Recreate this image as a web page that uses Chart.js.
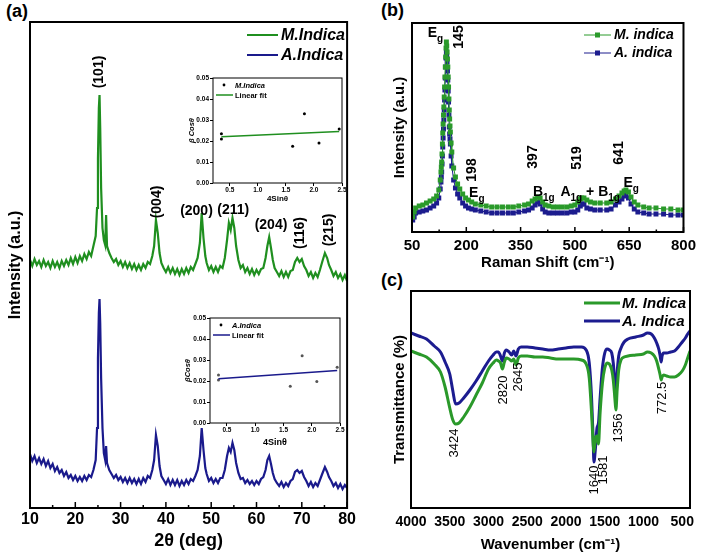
<!DOCTYPE html>
<html>
<head>
<meta charset="utf-8">
<script src="https://cdn.jsdelivr.net/npm/chart.js@4.4.1/dist/chart.umd.min.js"></script>
<style>
  html, body { margin: 0; padding: 0; background: #fff; }
  body { position: relative; width: 702px; height: 553px; overflow: hidden; font-family: "Liberation Sans", Arial, sans-serif; }
  canvas { position: absolute; }
  .lbl { position: absolute; font-weight: bold; font-size: 18px; color: #000; }
</style>
</head>
<body>
<div class="lbl" style="left:6px;top:1px">(a)</div>
<div class="lbl" style="left:381px;top:0px">(b)</div>
<div class="lbl" style="left:381px;top:270px">(c)</div>
<canvas id="xrd" width="360" height="553" style="left:0;top:0"></canvas>
<canvas id="insetM" width="169" height="140" style="left:182px;top:66px"></canvas>
<canvas id="insetA" width="169" height="145" style="left:180px;top:306px"></canvas>
<canvas id="raman" width="342" height="272" style="left:360px;top:0"></canvas>
<canvas id="ftir" width="342" height="278" style="left:360px;top:275px"></canvas>
<script>
// ---- (a) XRD ----
const xrdAngle = [
  10, 10.5, 11, 11.5, 12, 12.5, 13, 13.5, 14, 14.5,
  15, 15.5, 16, 16.5, 17, 17.5, 18, 18.5, 19, 19.5,
  20, 20.5, 21, 21.5, 22, 22.5, 23, 23.5, 24, 24.5,
  24.8, 25, 25.2, 25.35, 25.5, 25.7, 26, 26.3, 26.6, 26.8,
  27, 27.5, 28, 28.5, 29, 29.5, 30, 30.5, 31, 31.5,
  32, 32.5, 33, 33.5, 34, 34.5, 35, 35.5, 36, 36.5,
  37, 37.4, 37.8, 38.2, 38.6, 39, 39.5, 40, 40.5, 41,
  41.5, 42, 42.5, 43, 43.5, 44, 44.5, 45, 45.5, 46,
  46.5, 47, 47.5, 47.9, 48.3, 48.7, 49, 49.5, 50, 50.5,
  51, 51.5, 52, 52.5, 53, 53.5, 53.9, 54.3, 54.7, 55.1,
  55.5, 56, 56.5, 57, 57.5, 58, 58.5, 59, 59.5, 60,
  60.5, 61, 61.5, 62, 62.4, 62.8, 63.2, 63.6, 64, 64.5,
  65, 65.5, 66, 66.5, 67, 67.5, 68, 68.5, 69, 69.5,
  70, 70.5, 71, 71.5, 72, 72.5, 73, 73.5, 74, 74.5,
  75.1, 75.6, 76, 76.5, 77, 77.5, 78, 78.5, 79, 79.5,
  80
];
const xrdMIndica = [
  248, 242, 249, 243, 247, 241, 248, 242, 246, 240,
  247, 241, 246, 240, 247, 242, 248, 243, 250, 244,
  251, 245, 252, 247, 254, 249, 256, 252, 262, 272,
  300, 350, 400, 413, 380, 320, 280, 268, 263, 293,
  262, 255, 250, 246, 249, 243, 247, 241, 246, 240,
  245, 239, 244, 238, 243, 238, 244, 240, 246, 244,
  252, 262, 288, 275, 255, 245, 240, 236, 241, 235,
  240, 234, 239, 233, 239, 234, 240, 235, 241, 238,
  244, 250, 265, 295, 270, 252, 245, 238, 242, 236,
  241, 236, 242, 240, 250, 268, 285, 278, 290, 280,
  262, 248, 240, 243, 236, 240, 234, 239, 233, 238,
  234, 239, 240, 250, 262, 271, 260, 248, 240, 236,
  232, 237, 231, 236, 231, 237, 238, 246, 250, 246,
  249, 242, 238, 232, 236, 230, 235, 231, 238, 246,
  255, 250, 243, 238, 232, 236, 230, 234, 228, 233,
  227
];
const xrdAIndica = [
  54, 47, 52, 45, 50, 44, 49, 42, 47, 40,
  44, 37, 41, 35, 38, 32, 36, 30, 33, 28,
  32, 27, 31, 27, 32, 28, 33, 31, 38, 48,
  80, 150, 195, 209, 185, 130, 80, 55, 48, 62,
  45, 38, 34, 30, 33, 28, 31, 26, 30, 25,
  30, 25, 29, 24, 29, 24, 30, 26, 32, 30,
  38, 48, 73, 62, 42, 32, 28, 24, 29, 23,
  28, 23, 28, 22, 27, 23, 28, 24, 29, 27,
  32, 38, 52, 80, 58, 40, 34, 27, 30, 25,
  29, 25, 30, 30, 38, 52, 60, 56, 65, 58,
  45, 35, 29, 30, 25, 28, 24, 27, 23, 27,
  24, 29, 31, 38, 48, 52, 44, 35, 29, 25,
  22, 26, 21, 25, 22, 27, 29, 36, 38, 35,
  37, 31, 27, 22, 26, 21, 25, 22, 28, 34,
  41, 36, 31, 27, 22, 25, 20, 24, 19, 23,
  20
];
const xrdTicks = [10, 20, 30, 40, 50, 60, 70, 80];
const xrdPeaks = ['(101)', '(004)', '(200)', '(211)', '(204)', '(116)', '(215)'];

// ---- (a) insets: Williamson-Hall ----
const whX = [0.35, 0.35, 1.62, 1.83, 2.09, 2.45];
const whMIndica = [0.0235, 0.021, 0.0175, 0.033, 0.019, 0.0257];
const whAIndica = [0.0228, 0.0205, 0.0175, 0.032, 0.0198, 0.0265];
const fitX = [0.35, 2.45];
const fitMIndica = [0.0220, 0.0245];
const fitAIndica = [0.0211, 0.0250];
const whXTicks = [0.5, 1.0, 1.5, 2.0, 2.5];
const whYTicks = [0, 0.01, 0.02, 0.03, 0.04, 0.05];

// ---- (b) Raman ----
const ramanShift = [
  52, 56, 60, 70, 80, 90, 100, 110, 118, 124,
  128, 130, 131, 132, 133, 134, 135, 136, 137, 138,
  139, 140, 141, 142, 143, 144, 145, 146, 147, 148,
  149, 150, 151, 152, 153, 154, 155, 156, 158, 160,
  165, 170, 176, 182, 190, 198, 206, 215, 225, 240,
  255, 270, 285, 300, 316, 330, 345, 361, 372, 382,
  390, 397, 404, 411, 418, 428, 440, 452, 465, 478,
  490, 500, 508, 515, 519, 525, 533, 543, 555, 570,
  588, 600, 612, 622, 630, 636, 641, 648, 655, 664,
  674, 690, 705, 724, 745, 765, 785, 800
];
const ramanMIndica = [
  15, 20, 24, 26, 27, 29, 31, 33, 36, 42,
  52, 60, 65, 70, 78, 88, 99, 108, 117, 125,
  135, 145, 155, 165, 175, 184, 190, 186, 180, 173,
  165, 155, 145, 133, 122, 113, 106, 100, 89, 80,
  64, 55, 48, 43, 38, 34, 32, 30, 28, 27,
  26, 25, 25, 25, 25, 25, 26, 27, 28, 31,
  33, 35, 34, 30, 27, 26, 25, 25, 25, 25,
  26, 27, 30, 33, 34, 34, 32, 30, 29, 29,
  29, 30, 33, 36, 39, 41, 42, 40, 35, 30,
  27, 25, 24, 24, 23, 23, 22, 22
];
const ramanAIndica = [
  12, 15, 19, 20, 21, 22, 24, 26, 29, 34,
  43, 50, 55, 60, 68, 76, 85, 94, 103, 112,
  122, 132, 142, 154, 165, 174, 180, 176, 170, 161,
  152, 141, 130, 117, 105, 98, 93, 88, 76, 66,
  52, 44, 38, 34, 29, 26, 24, 23, 22, 21,
  20, 19, 19, 19, 19, 19, 20, 21, 22, 24,
  27, 30, 28, 23, 20, 19, 19, 19, 19, 19,
  20, 20, 22, 26, 28, 28, 24, 23, 22, 22,
  22, 23, 27, 30, 33, 36, 37, 34, 28, 23,
  20, 19, 18, 18, 18, 17, 17, 17
];
const ramanTicks = [50, 200, 350, 500, 650, 800];

// ---- (c) FTIR ----
const ftirWavenumber = [
  4000, 3900, 3800, 3700, 3620, 3560, 3500, 3460, 3424, 3380,
  3320, 3240, 3160, 3080, 3000, 2940, 2900, 2870, 2845, 2820,
  2795, 2770, 2735, 2700, 2675, 2645, 2615, 2580, 2500, 2400,
  2300, 2200, 2100, 2000, 1900, 1800, 1740, 1700, 1670, 1650,
  1640, 1620, 1600, 1581, 1560, 1530, 1500, 1470, 1440, 1410,
  1390, 1375, 1365, 1356, 1340, 1320, 1290, 1250, 1200, 1100,
  1000, 950, 900, 860, 830, 800, 785, 772, 760, 740,
  700, 650, 600, 550, 500, 460, 430, 400
];
const ftirMIndica = [
  157, 154, 151, 144, 136, 121, 100, 88, 84, 85,
  91, 101, 113, 125, 139, 145, 148, 147, 145, 139,
  146, 150, 149, 147, 149, 143, 150, 152, 152, 151,
  151, 150, 149, 149, 149, 148, 144, 130, 95, 65,
  56, 70, 72, 64, 95, 125, 140, 145, 144, 138,
  128, 115, 105, 98, 118, 138, 148, 151, 152, 153,
  154, 156, 155, 152, 147, 138, 133, 128, 131, 133,
  132, 131, 131, 133, 137, 143, 150, 157
];
const ftirAIndica = [
  175, 172, 169, 162, 156, 146, 134, 117, 104, 105,
  110, 118, 127, 137, 147, 153, 156, 156, 152, 147,
  155, 158, 156, 153, 157, 152, 159, 161, 161, 160,
  159, 158, 159, 160, 161, 161, 158, 145, 110, 70,
  46, 60, 80, 85, 110, 140, 155, 159, 158, 155,
  145, 130, 118, 111, 135, 152, 160, 166, 169, 171,
  173, 175, 174, 170, 165, 158, 152, 146, 152, 155,
  155, 156, 157, 161, 166, 170, 174, 177
];
const ftirTicks = [4000, 3500, 3000, 2500, 2000, 1500, 1000, 500];
const ftirBands = ['3424', '2820', '2645', '1640', '1581', '1356', '772.5'];

const FAM = '"Liberation Sans", Arial, sans-serif';
const GREEN = '#1f8f1f', BLUE = '#1a1a8c';

function pts(xs, ys) { return xs.map((x, i) => ({ x: x, y: ys[i] })); }
function setTicks(arr) { return s => { s.ticks = arr.map(v => ({ value: v })); }; }
function fnt(size, weight, style) {
  return { family: FAM, size: size, weight: weight || 'bold', style: style || 'normal', lineHeight: 1 };
}

// frame, inner ticks, annotations and legend, drawn against the chart's own scales
function decor(o) {
  return {
    id: 'decor',
    afterDraw(chart) {
      const ctx = chart.ctx, a = chart.chartArea, sx = chart.scales.x, sy = chart.scales.y;
      ctx.save();
      ctx.strokeStyle = '#000';
      if (o.ticks) {
        ctx.lineWidth = 1.5;
        o.ticks.forEach((v, i) => {
          const marks = [[v, o.tickLen]];
          if (i < o.ticks.length - 1) marks.push([(v + o.ticks[i + 1]) / 2, o.tickLen / 2]);
          marks.forEach(([t, len]) => {
            const x = sx.getPixelForValue(t);
            ctx.beginPath(); ctx.moveTo(x, a.bottom); ctx.lineTo(x, a.bottom - len); ctx.stroke();
          });
        });
      }
      ctx.lineWidth = o.frame;
      ctx.strokeRect(a.left, a.top, a.right - a.left, a.bottom - a.top);
      ctx.fillStyle = '#000';
      ctx.textBaseline = 'middle';
      (o.notes || []).forEach(n => {
        ctx.save();
        ctx.translate(sx.getPixelForValue(n.x), sy.getPixelForValue(n.y));
        if (n.rot) ctx.rotate(-Math.PI / 2);
        if (n.parts) {
          ctx.textAlign = 'left';
          let cx = 0;
          n.parts.forEach(p => {
            ctx.font = p[1] ? o.subFont : o.noteFont;
            ctx.fillText(p[0], cx, p[1] ? o.subDy : 0);
            cx += ctx.measureText(p[0]).width;
          });
        } else {
          ctx.textAlign = 'center';
          ctx.font = o.noteFont;
          ctx.fillText(n.text, 0, 0);
        }
        ctx.restore();
      });
      (o.legend || []).forEach(l => {
        if (l.dot) {
          ctx.fillStyle = '#000';
          ctx.beginPath(); ctx.arc(l.x1, l.y, 1.4, 0, Math.PI * 2); ctx.fill();
        } else {
          ctx.strokeStyle = l.color; ctx.lineWidth = l.width;
          ctx.beginPath(); ctx.moveTo(l.x1, l.y); ctx.lineTo(l.x2, l.y); ctx.stroke();
          if (l.marker) {
            ctx.fillStyle = l.color;
            ctx.fillRect((l.x1 + l.x2) / 2 - 2.5, l.y - 2.5, 5, 5);
          }
        }
        ctx.fillStyle = '#000';
        ctx.textAlign = 'left';
        ctx.font = l.font;
        ctx.fillText(l.text, l.tx, l.y + 0.5);
      });
      ctx.restore();
    }
  };
}

const noAnim = { animation: false, responsive: false, devicePixelRatio: 1, events: [] };
const offPlugins = { legend: { display: false }, tooltip: { enabled: false } };

// (a) XRD
const xrdPos = [[25.3, 436, 1], [38, 306, 1], [46.75, 297, 0], [54.85, 298, 0], [63.2, 283, 0], [69.7, 275, 1], [76.1, 278, 1]];
new Chart(document.getElementById('xrd'), {
  type: 'line',
  data: {
    datasets: [
      { data: pts(xrdAngle, xrdMIndica), borderColor: GREEN, borderWidth: 2.2, pointRadius: 0 },
      { data: pts(xrdAngle, xrdAIndica), borderColor: BLUE, borderWidth: 2.2, pointRadius: 0 }
    ]
  },
  options: Object.assign({}, noAnim, {
    layout: { padding: { left: 0, right: 10, top: 22, bottom: 0 } },
    plugins: offPlugins,
    scales: {
      x: {
        type: 'linear', min: 10, max: 80,
        afterBuildTicks: setTicks(xrdTicks),
        afterFit: s => { s.height = 45; },
        grid: { display: false, drawTicks: false }, border: { display: false },
        ticks: { color: '#000', font: fnt(16), padding: 4, autoSkip: false, maxRotation: 0, callback: v => String(v) },
        title: { display: true, text: '2θ (deg)', color: '#000', font: fnt(18), padding: { top: 0, bottom: 3 } }
      },
      y: {
        min: 0, max: 486,
        afterFit: s => { s.width = 30; },
        grid: { display: false, drawTicks: false }, border: { display: false },
        ticks: { display: false },
        title: { display: true, text: 'Intensity (a.u.)', color: '#000', font: fnt(16), padding: { top: 8, bottom: 0 } }
      }
    }
  }),
  plugins: [decor({
    frame: 2, ticks: xrdTicks, tickLen: 6,
    noteFont: 'bold 14px ' + FAM,
    notes: xrdPeaks.map((t, i) => ({ text: t, x: xrdPos[i][0], y: xrdPos[i][1], rot: xrdPos[i][2] })),
    legend: [
      { x1: 247, x2: 278, y: 35, color: GREEN, width: 2, text: 'M.Indica', tx: 281, font: 'italic bold 16px ' + FAM },
      { x1: 247, x2: 278, y: 55, color: BLUE, width: 2, text: 'A.Indica', tx: 281, font: 'italic bold 16px ' + FAM }
    ]
  })]
});

// (a) insets
function inset(id, ys, fitY, lineColor, dotColor, name, padY, padX, yTitle, axisH, yW, xTitleSize) {
  new Chart(document.getElementById(id), {
    type: 'scatter',
    data: {
      datasets: [
        { data: pts(fitX, fitY), showLine: true, borderColor: lineColor, borderWidth: 1.5, pointRadius: 0 },
        { data: pts(whX, ys), pointRadius: 1.5, pointBackgroundColor: dotColor, pointBorderWidth: 0 }
      ]
    },
    options: Object.assign({}, noAnim, {
      layout: { padding: { left: 0, right: 9, top: 12, bottom: 0 } },
      plugins: offPlugins,
      scales: {
        x: {
          type: 'linear', min: 0.2, max: 2.5,
          afterBuildTicks: setTicks(whXTicks),
          afterFit: s => { s.height = axisH; },
          grid: { display: true, drawOnChartArea: false, drawTicks: true, tickLength: 3, color: '#000' },
          border: { display: false },
          ticks: { color: '#000', font: fnt(6.5), padding: 1, autoSkip: false, maxRotation: 0, callback: v => v.toFixed(1) },
          title: { display: true, text: '4Sinθ', color: '#000', font: fnt(xTitleSize), padding: { top: 0, bottom: padX } }
        },
        y: {
          min: 0, max: 0.05,
          afterBuildTicks: setTicks(whYTicks),
          afterFit: s => { s.width = yW; },
          grid: { display: true, drawOnChartArea: false, drawTicks: true, tickLength: 3, color: '#000' },
          border: { display: false },
          ticks: { color: '#000', font: fnt(6.5), padding: 1, autoSkip: false, callback: v => v.toFixed(2) },
          title: { display: true, text: yTitle, color: '#000', font: fnt(7.5, 'bold', 'italic'), padding: { top: padY, bottom: 0 } }
        }
      }
    }),
    plugins: [decor({
      frame: 1,
      legend: [
        { dot: true, x1: yW + 11, y: 19, text: name, tx: yW + 22, font: 'italic bold 7.5px ' + FAM },
        { x1: yW + 3, x2: yW + 20, y: 29, color: lineColor, width: 1.5, text: 'Linear fit', tx: yW + 22, font: 'bold 7.5px ' + FAM }
      ]
    })]
  });
}
inset('insetM', whMIndica, fitMIndica, GREEN, '#000', 'M.Indica', 6, 3, 'β Cosθ', 23, 31, 8);
inset('insetA', whAIndica, fitAIndica, BLUE, '#555', 'A.Indica', 4, 3.5, 'βCosθ', 28, 30, 9);

// (b) Raman
const RG = '#2a9a2a', RB = '#1c1c8e';
new Chart(document.getElementById('raman'), {
  type: 'line',
  data: {
    datasets: [
      { data: pts(ramanShift, ramanMIndica), borderColor: RG, backgroundColor: RG, borderWidth: 1, pointStyle: 'rect', pointRadius: 3.5, pointBorderWidth: 0 },
      { data: pts(ramanShift, ramanAIndica), borderColor: RB, backgroundColor: RB, borderWidth: 1, pointStyle: 'rect', pointRadius: 3.5, pointBorderWidth: 0 }
    ]
  },
  options: Object.assign({}, noAnim, {
    layout: { padding: { left: 0, right: 14, top: 23, bottom: 0 } },
    plugins: offPlugins,
    scales: {
      x: {
        type: 'linear', min: 50, max: 800,
        afterBuildTicks: setTicks(ramanTicks),
        afterFit: s => { s.height = 40; },
        grid: { display: false, drawTicks: false }, border: { display: false },
        ticks: { color: '#000', font: fnt(15), padding: 6, autoSkip: false, maxRotation: 0, callback: v => String(v) },
        title: { display: true, text: 'Raman Shift (cm⁻¹)', color: '#000', font: fnt(15), padding: { top: 0, bottom: 2 } }
      },
      y: {
        min: 0, max: 209,
        afterFit: s => { s.width = 52; },
        grid: { display: false, drawTicks: false }, border: { display: false },
        ticks: { display: false },
        title: { display: true, text: 'Intensity (a.u.)', color: '#000', font: fnt(15), padding: { top: 32, bottom: 0 } }
      }
    }
  }),
  plugins: [decor({
    frame: 2, ticks: ramanTicks, tickLen: 5,
    noteFont: 'bold 14px ' + FAM, subFont: 'bold 10px ' + FAM, subDy: 6,
    notes: [
      { parts: [['E'], ['g', 1]], x: 93.5, y: 199 },
      { text: '145', rot: 1, x: 180, y: 195 },
      { text: '198', rot: 1, x: 215.7, y: 62 },
      { parts: [['E'], ['g', 1]], x: 207.6, y: 39 },
      { text: '397', rot: 1, x: 384, y: 75 },
      { parts: [['B'], ['1g', 1]], x: 384, y: 40 },
      { text: '519', rot: 1, x: 506, y: 74 },
      { parts: [['A'], ['1g', 1], [' + B'], ['1g', 1]], x: 460, y: 40 },
      { text: '641', rot: 1, x: 623, y: 79 },
      { parts: [['E'], ['g', 1]], x: 634, y: 49 }
    ],
    legend: [
      { x1: 224, x2: 251, y: 35, color: RG, width: 1, marker: 1, text: 'M. indica', tx: 254, font: 'italic bold 14px ' + FAM },
      { x1: 224, x2: 251, y: 53, color: RB, width: 1, marker: 1, text: 'A. indica', tx: 254, font: 'italic bold 14px ' + FAM }
    ]
  })]
});

// (c) FTIR
const FG = '#2a992a', FB = '#1c1c90';
const ftirPos = [[3445, 65], [2813, 118], [2620, 131], [1639, 28], [1523, 38], [1330, 80], [762, 110]];
new Chart(document.getElementById('ftir'), {
  type: 'line',
  data: {
    datasets: [
      { data: pts(ftirWavenumber, ftirMIndica), borderColor: FG, borderWidth: 3, pointRadius: 0, cubicInterpolationMode: 'monotone' },
      { data: pts(ftirWavenumber, ftirAIndica), borderColor: FB, borderWidth: 3, pointRadius: 0, cubicInterpolationMode: 'monotone' }
    ]
  },
  options: Object.assign({}, noAnim, {
    layout: { padding: { left: 0, right: 12, top: 16, bottom: 0 } },
    plugins: offPlugins,
    scales: {
      x: {
        type: 'linear', min: 400, max: 4000, reverse: true,
        afterBuildTicks: setTicks(ftirTicks),
        afterFit: s => { s.height = 45; },
        grid: { display: false, drawTicks: false }, border: { display: false },
        ticks: { color: '#000', font: fnt(14), padding: 7, autoSkip: false, maxRotation: 0, callback: v => String(v) },
        title: { display: true, text: 'Wavenumber (cm⁻¹)', color: '#000', font: fnt(15), padding: { top: 0, bottom: 1 } }
      },
      y: {
        min: 0, max: 217,
        afterFit: s => { s.width = 51; },
        grid: { display: false, drawTicks: false }, border: { display: false },
        ticks: { display: false },
        title: { display: true, text: 'Transmittance (%)', color: '#000', font: fnt(15), padding: { top: 32, bottom: 0 } }
      }
    }
  }),
  plugins: [decor({
    frame: 2,
    noteFont: '13px ' + FAM,
    notes: ftirBands.map((t, i) => ({ text: t, rot: 1, x: ftirPos[i][0], y: ftirPos[i][1] })),
    legend: [
      { x1: 224, x2: 260, y: 28, color: FG, width: 3, text: 'M. Indica', tx: 262, font: 'italic bold 15px ' + FAM },
      { x1: 224, x2: 260, y: 46, color: FB, width: 3, text: 'A. Indica', tx: 262, font: 'italic bold 15px ' + FAM }
    ]
  })]
});
</script>
</body>
</html>
